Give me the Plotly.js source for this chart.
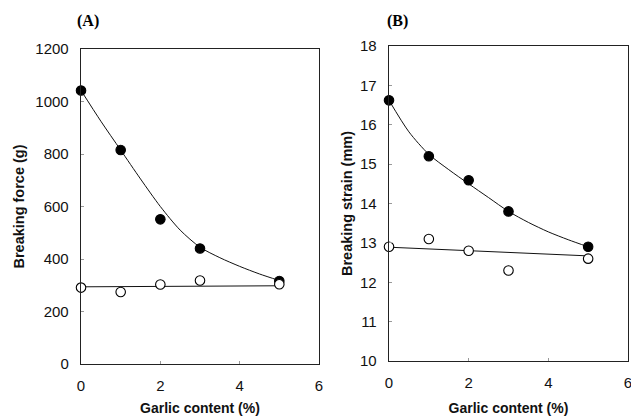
<!DOCTYPE html>
<html>
<head>
<meta charset="utf-8">
<script src="https://cdn.plot.ly/plotly-3.0.1.min.js"></script>
<style>
  html, body { margin: 0; padding: 0; background: #fff; }
  #chart { width: 631px; height: 416px; }
</style>
</head>
<body>
<div id="chart"></div>
<script>
// Garlic content (%) at which each sample was measured
const garlic = [0, 1, 2, 3, 5];

// (A) Breaking force (g)
const forceFilled = [1042, 815, 551, 440, 316];
const forceOpen   = [291, 274, 303, 318, 304];

// (B) Breaking strain (mm)
const strainFilled = [16.62, 15.2, 14.59, 13.8, 12.9];
const strainOpen   = [12.9, 13.1, 12.8, 12.3, 12.6];

// Fitted trend lines
const fitX       = [0, 0.5, 1, 1.5, 2, 2.5, 3, 3.5, 4, 4.5, 5];
const fitForce   = [1042, 925, 815, 705, 600, 510, 445, 405, 372, 343, 318];
const fitStrain  = [16.62, 15.82, 15.25, 14.86, 14.5, 14.15, 13.8, 13.52, 13.28, 13.08, 12.9];
const lineX      = [0, 5];
const lineForce  = [294, 298];
const lineStrain = [12.89, 12.67];

const xTicks = [0, 2, 4, 6];

const curve = (x, y, xa, ya) => ({
  x, y, xaxis: xa, yaxis: ya, type: 'scatter', mode: 'lines',
  line: { color: '#111', width: 1, shape: 'spline', smoothing: 0.8 },
  hoverinfo: 'skip', cliponaxis: false
});
const dots = (x, y, xa, ya, filled) => ({
  x, y, xaxis: xa, yaxis: ya, type: 'scatter', mode: 'markers',
  marker: {
    symbol: 'circle', size: 9.5,
    color: filled ? '#000' : '#fff',
    line: { color: '#000', width: 1.1 }
  },
  cliponaxis: false
});

const data = [
  curve(fitX, fitForce, 'x', 'y'),
  curve(lineX, lineForce, 'x', 'y'),
  dots(garlic, forceFilled, 'x', 'y', true),
  dots(garlic, forceOpen, 'x', 'y', false),
  curve(fitX, fitStrain, 'x2', 'y2'),
  curve(lineX, lineStrain, 'x2', 'y2'),
  dots(garlic, strainFilled, 'x2', 'y2', true),
  dots(garlic, strainOpen, 'x2', 'y2', false)
];

const sans = 'Liberation Sans, Arial, sans-serif';
const tickFont = { family: sans, size: 15, color: '#111' };
const titleFont = (size) => ({ family: sans, size, color: '#111', weight: 'bold' });

const xAxis = (domain, anchor) => ({
  domain, anchor, range: [0, 6], tickvals: xTicks,
  showgrid: false, zeroline: false,
  showline: true, mirror: true, linecolor: '#222', linewidth: 1.3,
  ticks: 'inside', ticklen: 3, tickcolor: '#999', tickwidth: 1,
  tickfont: tickFont, ticklabelstandoff: 8, ticklabeloverflow: 'allow',
  title: { text: 'Garlic content (%)', font: titleFont(14), standoff: 15 }
});
const yAxis = (domain, anchor, range, dtick, title, standoff) => ({
  domain, anchor, range, dtick,
  showgrid: false, zeroline: false,
  showline: true, mirror: true, linecolor: '#222', linewidth: 1.3,
  ticks: 'inside', ticklen: 3, tickcolor: '#999', tickwidth: 1,
  tickfont: tickFont, ticklabelstandoff: 8, ticklabeloverflow: 'allow',
  title: { text: title, font: titleFont(14.5), standoff }
});

const layout = {
  width: 631, height: 416,
  margin: { l: 0, r: 0, t: 0, b: 0 },
  paper_bgcolor: '#fff', plot_bgcolor: '#fff',
  showlegend: false,
  xaxis:  xAxis([0.1284, 0.5055], 'y'),
  yaxis:  yAxis([0.125, 0.8822], 'x', [0, 1200], 200, 'Breaking force (g)', 7),
  xaxis2: xAxis([0.6165, 0.9952], 'y2'),
  yaxis2: yAxis([0.1322, 0.8894], 'x2', [10, 18], 1, 'Breaking strain (mm)', 4),
  annotations: [
    { text: '(A)', x: 88, y: 395 },
    { text: '(B)', x: 398, y: 395 }
  ].map(a => ({
    text: a.text, xref: 'paper', yref: 'paper',
    x: a.x / 631, y: a.y / 416, xanchor: 'center', yanchor: 'middle',
    showarrow: false,
    font: { family: 'Liberation Serif, Times New Roman, serif', size: 16, color: '#000', weight: 'bold' }
  }))
};

Plotly.newPlot('chart', data, layout, { staticPlot: true, displayModeBar: false });
</script>
</body>
</html>
